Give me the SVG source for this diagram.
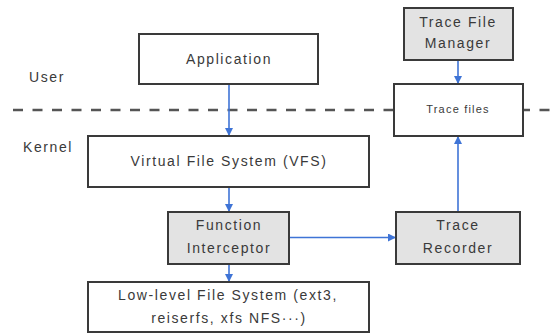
<svg xmlns="http://www.w3.org/2000/svg" width="552" height="334" viewBox="0 0 552 334">
  <defs>
    <marker id="arrow" markerUnits="userSpaceOnUse" markerWidth="8" markerHeight="8" refX="8" refY="4" orient="auto">
      <path d="M0,0 L8,4 L0,8 z" fill="#3f74d6"/>
    </marker>
    <style>
      .box { fill: #ffffff; stroke: #3a3a3a; stroke-width: 2; }
      .grey { fill: #e3e3e3; }
      .lbl { font-family: "Liberation Sans", Arial, sans-serif; font-size: 14px; letter-spacing: 1.6px; fill: #3a3a3a; text-anchor: middle; }
      .small { font-size: 11px; letter-spacing: 1.2px; }
      .side { text-anchor: start; }
      .conn { stroke: #3f74d6; stroke-width: 1.6; fill: none; marker-end: url(#arrow); }
    </style>
  </defs>
  <rect width="552" height="334" fill="#ffffff"/>

  <!-- user / kernel boundary -->
  <g id="boundary">
    <line x1="13" y1="110" x2="552" y2="110" stroke="#555555" stroke-width="2.5" stroke-dasharray="10 9.5"/>
    <text class="lbl side" x="29" y="82">User</text>
    <text class="lbl side" x="23" y="152">Kernel</text>
  </g>

  <!-- connectors -->
  <g id="connectors">
    <line class="conn" x1="229" y1="84" x2="229" y2="136"/>
    <line class="conn" x1="229" y1="187" x2="229" y2="212"/>
    <line class="conn" x1="229" y1="264" x2="229" y2="282"/>
    <line class="conn" x1="289" y1="237.5" x2="396" y2="237.5"/>
    <line class="conn" x1="458" y1="60" x2="458" y2="84"/>
    <line class="conn" x1="458" y1="212" x2="458" y2="136"/>
  </g>

  <g id="application">
    <rect class="box" x="139" y="34" width="179" height="50"/>
    <text class="lbl" x="229" y="64">Application</text>
  </g>

  <g id="vfs">
    <rect class="box" x="88" y="136" width="281" height="51"/>
    <text class="lbl" x="229" y="166">Virtual File System (VFS)</text>
  </g>

  <g id="function-interceptor">
    <rect class="box grey" x="168" y="212" width="121" height="52"/>
    <text class="lbl" x="229" y="230">Function</text>
    <text class="lbl" x="229" y="253">Interceptor</text>
  </g>

  <g id="low-level-fs">
    <rect class="box" x="88" y="282" width="281" height="50"/>
    <text class="lbl" x="228" y="300">Low-level File System (ext3,</text>
    <text class="lbl" x="229" y="323">reiserfs, xfs NFS···)</text>
  </g>

  <g id="trace-file-manager">
    <rect class="box grey" x="404" y="8" width="109" height="52"/>
    <text class="lbl" x="458" y="27">Trace File</text>
    <text class="lbl" x="458" y="48">Manager</text>
  </g>

  <g id="trace-files">
    <rect class="box" x="394" y="84" width="129" height="52"/>
    <text class="lbl small" x="458" y="113">Trace files</text>
  </g>

  <g id="trace-recorder">
    <rect class="box grey" x="396" y="212" width="124" height="52"/>
    <text class="lbl" x="458" y="230">Trace</text>
    <text class="lbl" x="458" y="253">Recorder</text>
  </g>
</svg>
